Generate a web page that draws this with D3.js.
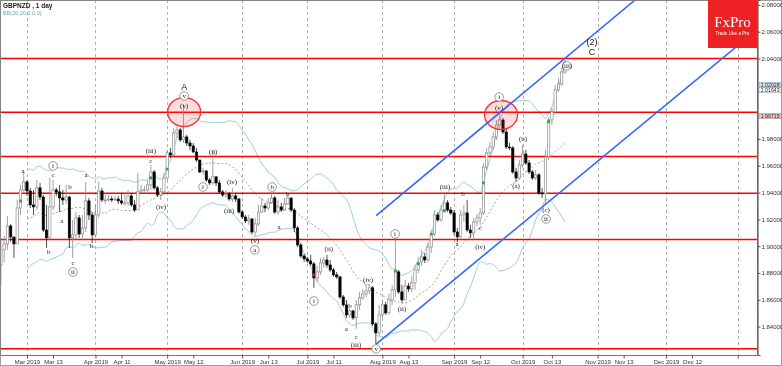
<!DOCTYPE html>
<html>
<head>
<meta charset="utf-8">
<script src="https://cdn.jsdelivr.net/npm/d3@7"></script>
<style>
  body { margin: 0; background: #fff; }
  svg { will-change: transform; }
  text { font-family: "Liberation Sans", Arial, sans-serif; }
  .wave, .logo { font-family: "Liberation Serif", "DejaVu Serif", serif; }
</style>
</head>
<body>
<div id="chart"></div>
<script>
// GBPNZD daily bars, Feb 19 2019 .. Oct 18 2019 (weekdays)
var startDate = "2019-02-19";
var firstOpen = 1.8860;
var closes = [
  1.8972,1.9017,1.9151,1.9069,1.9017,1.9285,1.9420,1.9479,1.9412,1.9308,
  1.9293,1.9435,1.9367,1.9121,1.9062,1.9293,1.9420,1.9405,1.9360,1.9345,
  1.9367,1.9062,1.9084,1.9211,1.9091,1.9136,1.9338,1.9233,1.9084,1.9233,
  1.9412,1.9345,1.9345,1.9352,1.9345,1.9352,1.9338,1.9323,1.9323,1.9375,
  1.9308,1.9270,1.9405,1.9420,1.9420,1.9457,1.9554,1.9435,1.9382,1.9405,
  1.9509,1.9696,1.9681,1.9845,1.9867,1.9793,1.9815,1.9770,1.9748,1.9703,
  1.9643,1.9554,1.9561,1.9494,1.9472,1.9517,1.9472,1.9405,1.9382,1.9390,
  1.9352,1.9375,1.9352,1.9255,1.9218,1.9188,1.9203,1.9106,1.9166,1.9255,
  1.9300,1.9285,1.9323,1.9360,1.9255,1.9293,1.9270,1.9315,1.9360,1.9270,
  1.9136,1.9009,1.8927,1.8905,1.8890,1.8868,1.8763,1.8808,1.8875,1.8897,
  1.8860,1.8823,1.8786,1.8771,1.8621,1.8562,1.8487,1.8517,1.8465,1.8562,
  1.8614,1.8644,1.8666,1.8689,1.8420,1.8353,1.8487,1.8562,1.8502,1.8599,
  1.8674,1.8808,1.8659,1.8599,1.8703,1.8681,1.8726,1.8823,1.8882,1.8920,
  1.8897,1.8994,1.9091,1.9233,1.9196,1.9270,1.9323,1.9270,1.9248,1.9106,
  1.9069,1.9233,1.9248,1.9121,1.9099,1.9181,1.9211,1.9248,1.9591,1.9696,
  1.9740,1.9815,1.9905,1.9942,1.9852,1.9740,1.9733,1.9554,1.9509,1.9606,
  1.9688,1.9621,1.9554,1.9509,1.9532,1.9397,1.9390,1.9666,1.9942,2.0002,
  2.0166,2.0210,2.0300,2.0375
];
var highs = [
  1.9047,1.9076,1.9226,1.9166,1.9062,1.9345,1.9457,1.9554,1.9494,1.9435,
  1.9420,1.9494,1.9472,1.9382,1.9308,1.9509,1.9494,1.9435,1.9457,1.9420,
  1.9457,1.9375,1.9196,1.9255,1.9233,1.9233,1.9479,1.9360,1.9255,1.9308,
  1.9479,1.9435,1.9397,1.9382,1.9375,1.9375,1.9375,1.9397,1.9405,1.9420,
  1.9397,1.9345,1.9546,1.9457,1.9449,1.9494,1.9606,1.9569,1.9449,1.9435,
  1.9546,1.9718,1.9733,1.9882,1.9897,1.9882,2.0061,1.9830,1.9793,1.9770,
  1.9733,1.9643,1.9584,1.9569,1.9509,1.9718,1.9524,1.9494,1.9420,1.9420,
  1.9405,1.9435,1.9397,1.9360,1.9270,1.9233,1.9233,1.9211,1.9211,1.9308,
  1.9360,1.9323,1.9360,1.9405,1.9375,1.9345,1.9323,1.9360,1.9397,1.9360,
  1.9285,1.9151,1.9024,1.8942,1.8920,1.8935,1.8882,1.8853,1.8912,1.8920,
  1.8935,1.8897,1.8838,1.8808,1.8778,1.8636,1.8599,1.8532,1.8524,1.8599,
  1.8659,1.8681,1.8718,1.8718,1.8703,1.8435,1.8562,1.8599,1.8584,1.8644,
  1.8711,1.9047,1.8823,1.8711,1.8748,1.8726,1.8778,1.8860,1.8920,1.8972,
  1.8950,1.9024,1.9121,1.9270,1.9255,1.9308,1.9405,1.9345,1.9293,1.9270,
  1.9136,1.9270,1.9308,1.9345,1.9159,1.9211,1.9241,1.9285,1.9621,1.9733,
  1.9778,1.9852,1.9942,2.0002,1.9957,1.9882,1.9770,1.9748,1.9584,1.9643,
  1.9755,1.9718,1.9643,1.9569,1.9569,1.9546,1.9435,1.9718,1.9964,2.0031,
  2.0203,2.0255,2.0330,2.0389
];
var lows = [
  1.8711,1.8882,1.8972,1.9032,1.8912,1.9017,1.9233,1.9405,1.9375,1.9285,
  1.9233,1.9270,1.9345,1.9106,1.8987,1.9047,1.9270,1.9375,1.9255,1.9308,
  1.9315,1.8987,1.8912,1.9047,1.9062,1.9047,1.9106,1.9196,1.9024,1.9062,
  1.9211,1.9330,1.9315,1.9330,1.9330,1.9338,1.9315,1.9308,1.9300,1.9300,
  1.9293,1.9255,1.9270,1.9382,1.9397,1.9405,1.9420,1.9420,1.9367,1.9345,
  1.9382,1.9494,1.9658,1.9673,1.9808,1.9778,1.9770,1.9748,1.9718,1.9696,
  1.9629,1.9546,1.9532,1.9479,1.9457,1.9457,1.9449,1.9390,1.9367,1.9360,
  1.9338,1.9330,1.9330,1.9241,1.9203,1.9173,1.9159,1.9091,1.9076,1.9151,
  1.9248,1.9255,1.9270,1.9315,1.9241,1.9233,1.9255,1.9263,1.9308,1.9255,
  1.9106,1.8994,1.8912,1.8882,1.8875,1.8853,1.8689,1.8733,1.8786,1.8838,
  1.8838,1.8808,1.8771,1.8756,1.8606,1.8547,1.8465,1.8465,1.8450,1.8383,
  1.8524,1.8599,1.8621,1.8644,1.8405,1.8271,1.8330,1.8465,1.8487,1.8487,
  1.8562,1.8621,1.8644,1.8577,1.8599,1.8659,1.8659,1.8674,1.8800,1.8853,
  1.8875,1.8882,1.8950,1.9076,1.9181,1.9181,1.9248,1.9255,1.9233,1.9084,
  1.9032,1.9062,1.9181,1.9106,1.9062,1.9047,1.9151,1.9159,1.9233,1.9569,
  1.9673,1.9718,1.9793,1.9882,1.9837,1.9726,1.9718,1.9539,1.9479,1.9494,
  1.9584,1.9606,1.9539,1.9494,1.9494,1.9382,1.9360,1.9308,1.9643,1.9905,
  1.9979,2.0151,2.0195,2.0285
];

// horizontal support / resistance levels
var levels = [2.0400, 2.0000, 1.9670, 1.9395, 1.9050, 1.8235];

// rising channel, [bar index, price]
var channelUpper = [[115.1, 1.9228], [194.5, 2.0837]];
var channelLower = [[115.1, 1.8270], [232.2, 2.0621]];

// highlighted tops
var ringIdx = [56.2, 153.4];
var ringPrice = [2.0001, 1.9979];

// signal dots
var dotIdx = [6, 46, 51, 96, 121, 128, 132, 136, 148, 168];
var dotPrice = [1.9338, 1.9509, 1.9576, 1.8786, 1.8815, 1.8868, 1.9091, 1.9265, 1.9472, 1.9929];
var dotColor = ["g", "g", "g", "r", "g", "g", "g", "g", "g", "g"];

// wave count labels
var waveText = ["a","i","c","a","b","a","b","c","ii","b",
  "(iii)","c","(iv)","A","v","(v)","(ii)","i","(iv)","(iii)",
  "(v)","a","b","a","b","(ii)","i","b","a","c",
  "(iii)","(iv)","v","i","(ii)","(iii)","b","a","c","(iv)",
  "i","(v)","(b)","(a)","(c)","ii","(iii)","(2)","C"];
var waveIdx = [6.8,16,16,26.1,21.2,18.7,14.7,22.1,22.1,27.9,
  46,46,49.1,56.2,56.2,56.2,65.1,62,70.9,70,
  77.9,77.9,83.2,85.3,88,100.6,96,107.1,105.9,108.9,
  108.9,112.6,115.1,120.9,123,136.2,141.7,139.9,147,147,
  152.8,152.8,160.1,158,167.2,167.2,173.6,181.3,181.3];
var wavePrice = [1.9561,1.9599,1.9531,1.9531,1.9442,1.9188,1.8957,1.8875,1.8807,1.9002,
  1.9710,1.9636,1.9293,2.0188,2.0121,2.0046,1.9703,1.9442,1.9479,1.9263,
  1.9039,1.8972,1.9442,1.9143,1.9390,1.8979,1.8591,1.8554,1.8382,1.8322,
  1.8263,1.8748,1.8233,1.9091,1.8531,1.9442,1.9390,1.9016,1.9136,1.9001,
  2.0113,2.0031,1.9800,1.9449,1.9270,1.9203,2.0345,2.0524,2.0449];
var waveKind = ["t","c","t","t","t","t","t","t","c","t",
  "t","t","t","big","c","t","t","c","t","t",
  "t","c","c","t","t","t","c","t","t","t",
  "t","t","c","c","t","t","t","t","t","t",
  "c","t","t","t","t","c","c","big","big"];

// axes
var priceTicks = [2.08, 2.06, 2.04, 1.98, 1.96, 1.94, 1.92, 1.90, 1.88, 1.86, 1.84];
var monthTicks = ["2019-03-01","2019-04-01","2019-05-01","2019-06-01","2019-07-01","2019-08-01",
  "2019-09-01","2019-10-01","2019-11-01","2019-12-01","2020-01-01"];
var monthLabels = ["Mar 2019","Apr 2019","May 2019","Jun 2019","Jul 2019","Aug 2019",
  "Sep 2019","Oct 2019","Nov 2019","Dec 2019",""];
var midTicks = ["2019-03-13","2019-04-11","2019-05-12","2019-06-13","2019-07-11","2019-08-13",
  "2019-09-12","2019-10-13","2019-11-13","2019-12-12"];
var midLabels = ["Mar 13","Apr 11","May 12","Jun 13","Jul 11","Aug 13",
  "Sep 12","Oct 13","Nov 13","Dec 12"];
var tagText = ["2.02028", "2.01643", "1.99715"];
var tagPrice = [2.02028, 2.01643, 1.99715];
var tagFill = ["#cfe6f5", "#ffffff", "#f7c6c6"];

var svgWidth = 782, svgHeight = 366;
var plotW = 757, plotH = 355;

// weekday calendar
var days = [];
var d0 = new Date(startDate + "T00:00:00");
for (var d = new Date(d0); days.length < 260; d.setDate(d.getDate() + 1)) {
  if (d.getDay() !== 0 && d.getDay() !== 6) days.push(new Date(d));
}
function dayIndex(s) {
  var t = new Date(s + "T00:00:00");
  return days.findIndex(function(x) { return x >= t; });
}

var bars = closes.map(function(c, i) {
  return { i: i, o: i === 0 ? firstOpen : closes[i - 1], h: highs[i], l: lows[i], c: c };
});

var x = d3.scaleLinear().domain([-0.276, 231.9]).range([0, plotW]);
var y = d3.scaleLinear().domain([1.8188, 2.0837]).range([plotH, 0]);

var svg = d3.select("#chart").append("svg")
  .attr("width", svgWidth).attr("height", svgHeight);

svg.append("rect").attr("width", svgWidth).attr("height", svgHeight).attr("fill", "#fff");

svg.append("defs").append("clipPath").attr("id", "plot")
  .append("rect").attr("width", plotW).attr("height", plotH);

var chart = svg.append("g").attr("clip-path", "url(#plot)");

// month gridlines
chart.selectAll(".grid").data(monthTicks).enter().append("line")
  .attr("x1", function(s) { return Math.round(x(dayIndex(s))) + 0.5; })
  .attr("x2", function(s) { return Math.round(x(dayIndex(s))) + 0.5; })
  .attr("y1", 0).attr("y2", plotH)
  .attr("stroke", "#9a9a9a").attr("stroke-width", 0.8).attr("stroke-dasharray", "3,3");

// bollinger bands (20, 2.0)
var bb = [];
for (var i = 8; i < closes.length; i++) {
  var win = closes.slice(Math.max(0, i - 19), i + 1);
  var m = d3.mean(win), sd = Math.sqrt(d3.mean(win, function(v) { return (v - m) * (v - m); }));
  bb.push({ i: i, m: m, u: m + 2 * sd, l: m - 2 * sd });
}
var bbLine = function(key) {
  return d3.line().x(function(b) { return x(b.i); }).y(function(b) { return y(b[key]); }).curve(d3.curveMonotoneX);
};
chart.append("path").datum(bb).attr("d", bbLine("u")).attr("fill", "none").attr("stroke", "#9ccfcf").attr("stroke-width", 1);
chart.append("path").datum(bb).attr("d", bbLine("l")).attr("fill", "none").attr("stroke", "#9ccfcf").attr("stroke-width", 1);
chart.append("path").datum(bb).attr("d", bbLine("m")).attr("fill", "none").attr("stroke", "#8a8a8a")
  .attr("stroke-width", 0.8).attr("stroke-dasharray", "2,2");

// levels
chart.selectAll(".lvl").data(levels).enter().append("line")
  .attr("x1", 0).attr("x2", plotW)
  .attr("y1", function(p) { return y(p); }).attr("y2", function(p) { return y(p); })
  .attr("stroke", "#ff0000").attr("stroke-width", 1.5);

// candles
var bw = 2.3;
var cg = chart.selectAll(".bar").data(bars).enter().append("g");
cg.append("line")
  .attr("x1", function(b) { return x(b.i); }).attr("x2", function(b) { return x(b.i); })
  .attr("y1", function(b) { return y(b.h); }).attr("y2", function(b) { return y(b.l); })
  .attr("stroke", function(b) { return b.c >= b.o ? "#8a8a8a" : "#222"; }).attr("stroke-width", 0.8);
cg.append("rect")
  .attr("x", function(b) { return x(b.i) - bw / 2; })
  .attr("y", function(b) { return y(Math.max(b.o, b.c)); })
  .attr("width", bw)
  .attr("height", function(b) { return Math.max(0.8, Math.abs(y(b.o) - y(b.c))); })
  .attr("fill", function(b) { return b.c >= b.o ? "#fff" : "#000"; })
  .attr("stroke", function(b) { return b.c >= b.o ? "#7a7a7a" : "#000"; })
  .attr("stroke-width", 0.6);

// signal dots
chart.selectAll(".dot").data(dotIdx).enter().append("circle")
  .attr("cx", function(v) { return x(v); })
  .attr("cy", function(v, k) { return y(dotPrice[k]); })
  .attr("r", 1.6)
  .attr("fill", function(v, k) { return dotColor[k] === "g" ? "#3aa63a" : "#d42020"; });

// rings over tops
chart.selectAll(".ring").data(ringIdx).enter().append("ellipse")
  .attr("cx", function(v) { return x(v); })
  .attr("cy", function(v, k) { return y(ringPrice[k]); })
  .attr("rx", 16.5).attr("ry", 14.5)
  .attr("fill", "rgba(255,60,60,0.18)")
  .attr("stroke", "#ff2a2a").attr("stroke-width", 1.3);

// channel
var chLine = d3.line().x(function(p) { return x(p[0]); }).y(function(p) { return y(p[1]); });
[channelUpper, channelLower].forEach(function(c) {
  chart.append("path").attr("d", chLine(c)).attr("fill", "none")
    .attr("stroke", "#3366ff").attr("stroke-width", 1.6);
});

// wave labels
var wl = chart.selectAll(".wave").data(waveText).enter().append("g")
  .attr("transform", function(t, k) { return "translate(" + x(waveIdx[k]) + "," + y(wavePrice[k]) + ")"; });
wl.filter(function(t, k) { return waveKind[k] === "c"; }).append("circle")
  .attr("r", 4.3).attr("fill", "#fff").attr("stroke", "#555").attr("stroke-width", 0.6);
wl.append("text")
  .attr("class", function(t, k) { return waveKind[k] === "big" ? "" : "wave"; })
  .attr("text-anchor", "middle").attr("dy", "0.35em")
  .attr("font-size", function(t, k) { return waveKind[k] === "big" ? 9 : 7; })
  .attr("fill", "#222")
  .text(function(t) { return t; });

// frame
svg.append("rect").attr("x", 0.5).attr("y", 0.5).attr("width", plotW).attr("height", plotH)
  .attr("fill", "none").attr("stroke", "#555").attr("stroke-width", 0.8);
svg.append("rect").attr("x", 0.5).attr("y", 0.5).attr("width", svgWidth - 1).attr("height", svgHeight - 1)
  .attr("fill", "none").attr("stroke", "#888").attr("stroke-width", 0.8);

// right price axis
var rightAxis = d3.axisRight(y).tickValues(priceTicks).tickSize(3)
  .tickFormat(function(p) { return p.toFixed(5); });
var ra = svg.append("g").attr("transform", "translate(" + (plotW + 0.5) + ",0)").call(rightAxis);
ra.select(".domain").attr("stroke", "#555");
ra.selectAll("text").attr("font-size", 6).attr("fill", "#333").attr("x", 4);
ra.selectAll("line").attr("stroke", "#555");
svg.append("g").selectAll("line").data(d3.range(1.8200, 2.0837, 0.0025)).enter().append("line")
  .attr("x1", plotW + 0.5).attr("x2", plotW + 2)
  .attr("y1", function(p) { return y(p); }).attr("y2", function(p) { return y(p); })
  .attr("stroke", "#777").attr("stroke-width", 0.6);

// price tags
var tg = svg.selectAll(".tag").data(tagText).enter().append("g")
  .attr("transform", function(t, k) { return "translate(" + (plotW + 2) + "," + y(tagPrice[k]) + ")"; });
tg.append("rect").attr("x", 0).attr("y", -2.6).attr("width", 22).attr("height", 5.2)
  .attr("fill", function(t, k) { return tagFill[k]; }).attr("stroke", "#888").attr("stroke-width", 0.5);
tg.append("text").attr("x", 1.8).attr("dy", "0.35em").attr("font-size", 5.2).attr("fill", "#222")
  .text(function(t) { return t; });

// bottom date axis
var xTickIdx = monthTicks.map(dayIndex).concat(midTicks.map(dayIndex));
var xTickLab = monthLabels.concat(midLabels);
var bottomAxis = d3.axisBottom(x).tickValues(xTickIdx).tickSize(3)
  .tickFormat(function(v, k) { return xTickLab[k]; });
var ba = svg.append("g").attr("transform", "translate(0," + (plotH + 0.5) + ")").call(bottomAxis);
ba.select(".domain").remove();
ba.selectAll("line").attr("stroke", "#555");
ba.selectAll("text").attr("font-size", 6).attr("fill", "#333").attr("y", 4);

// title
svg.append("text").attr("x", 3).attr("y", 8).attr("font-size", 6.5).attr("font-weight", "bold")
  .attr("fill", "#222").text("GBPNZD , 1 day");
svg.append("text").attr("x", 3).attr("y", 15).attr("font-size", 5.5)
  .attr("fill", "#6fa3c4").text("BB(20,20,2.0,0)");

// logo
var logo = svg.append("g").attr("transform", "translate(708,0)");
logo.append("rect").attr("width", 49).attr("height", 48).attr("fill", "#ed2024");
logo.append("text").attr("class", "logo").attr("x", 24.5).attr("y", 27).attr("text-anchor", "middle")
  .attr("font-size", 15).attr("fill", "#fff").text("FxPro");
logo.append("text").attr("x", 24.5).attr("y", 34.5).attr("text-anchor", "middle")
  .attr("font-size", 4.6).attr("fill", "#fff").text("Trade Like a Pro");
</script>
</body>
</html>
